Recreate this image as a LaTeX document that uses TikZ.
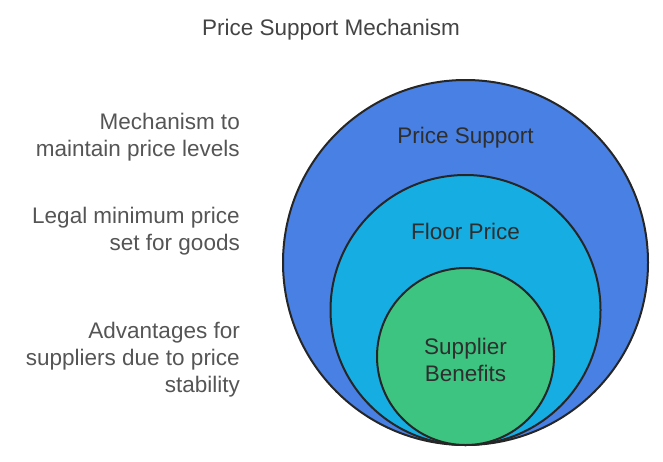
\documentclass[tikz,border=0pt]{standalone}
\usepackage{fontspec}
\setmainfont{Liberation Sans}
\definecolor{supportblue}{HTML}{4880E4}
\definecolor{floorcyan}{HTML}{16AEE2}
\definecolor{benefitgreen}{HTML}{3CC480}
\definecolor{labelgray}{HTML}{555555}
\definecolor{titlegray}{HTML}{444444}
\definecolor{ringtext}{HTML}{2E2E2E}
\tikzset{
  font={\fontsize{22.5pt}{27pt}\selectfont}}

\begin{document}
\begin{tikzpicture}[x=1pt,y=1pt]
\tikzstyle{every node}+=[inner sep=0pt]
\tikzstyle{ring}=[draw=black!85, line width=2pt]
\tikzstyle{side}=[align=right, anchor=east, text=labelgray]
\tikzstyle{inside}=[align=center, text=ringtext]
\useasboundingbox (0,0) rectangle (663,-461);
\draw (331,-29.5) node [text=titlegray] (title) {Price Support Mechanism};
\draw [ring, fill=supportblue] (465.5,-262.5) circle (182.5);
\draw [ring, fill=floorcyan] (465.5,-310) circle (135);
\draw [ring, fill=benefitgreen] (465.5,-356.5) circle (88.5);
\draw (465.5,-137.5) node [inside] (support) {Price Support};
\draw (465.5,-231.5) node [inside] (floor) {Floor Price};
\draw (465.5,-359.5) node [inside] (benefits) {Supplier\\Benefits};
\draw (240,-137.5) node [side] (supportnote) {Mechanism to\\maintain price levels};
\draw (240,-231.5) node [side] (floornote) {Legal minimum price\\set for goods};
\draw (240,-359.5) node [side] (benefitsnote) {Advantages for\\suppliers due to price\\stability};
\end{tikzpicture}
\end{document}
